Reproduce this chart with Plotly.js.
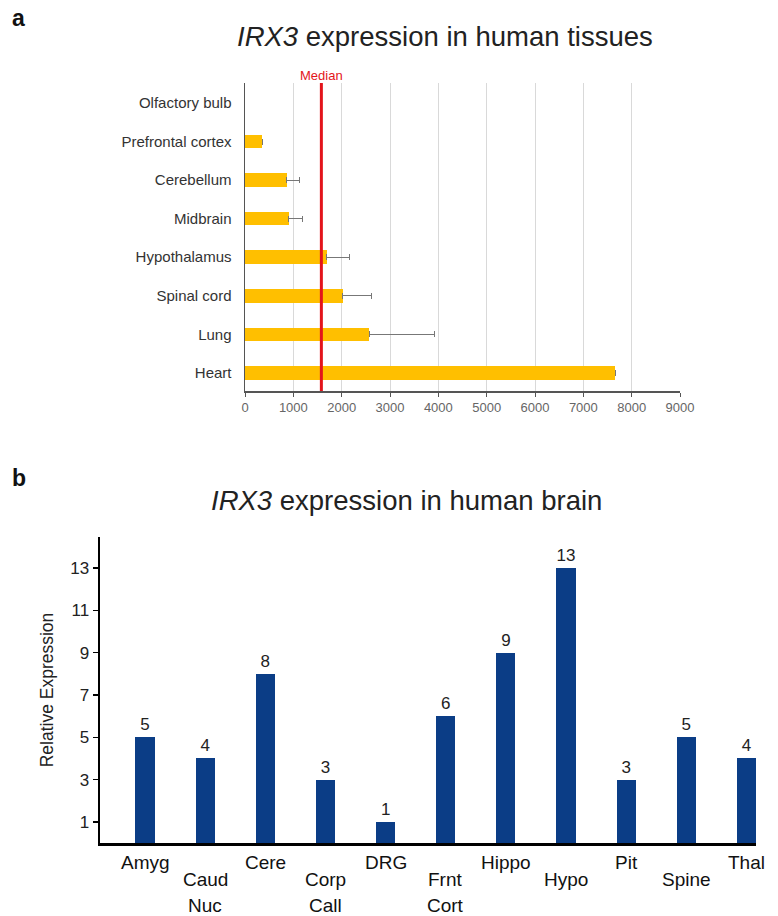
<!DOCTYPE html>
<html>
<head>
<meta charset="utf-8">
<script src="https://cdn.plot.ly/plotly-3.0.1.min.js"></script>
<style>html,body{margin:0;padding:0;background:#fff;}#chart{width:778px;height:916px;}</style>
</head>
<body>
<div id="chart"></div>
<script>
// ---- Panel a data ----
const tissues = ["Heart", "Lung", "Spinal cord", "Hypothalamus", "Midbrain", "Cerebellum", "Prefrontal cortex", "Olfactory bulb"];
const tissueValues = [7660, 2570, 2020, 1690, 900, 860, 360, null];
const tissueErrors = [null, 1350, 590, 470, 290, 260, null, null];
const medianValue = 1580;
const tissueTicks = [0, 1000, 2000, 3000, 4000, 5000, 6000, 7000, 8000, 9000];

// ---- Panel b data ----
const regions = ["Amyg", "Caud Nuc", "Cere", "Corp Call", "DRG", "Frnt Cort", "Hippo", "Hypo", "Pit", "Spine", "Thal"];
const brainValues = [5, 4, 8, 3, 1, 6, 9, 13, 3, 5, 4];
const brainTicks = [1, 3, 5, 7, 9, 11, 13];

const FONT = "Liberation Sans, Arial, sans-serif";
const W = 778, H = 916;
const py = (pix) => (H - pix) / H;
const px = (pix) => pix / W;

const traceA = {
  type: "bar", orientation: "h",
  x: tissueValues, y: tissues,
  xaxis: "x", yaxis: "y",
  width: 0.35,
  marker: {color: "#FFBF00", line: {width: 0}},
  error_x: {type: "data", symmetric: false, array: tissueErrors,
            arrayminus: tissueErrors.map(e => (e === null ? null : 0)),
            visible: true, color: "#777", thickness: 1, width: 3},
  hoverinfo: "x+y"
};

const traceB = {
  type: "bar",
  x: regions.map((r, i) => i), y: brainValues,
  xaxis: "x2", yaxis: "y2",
  width: 0.32,
  marker: {color: "#0b3d86"},
  text: brainValues.map(String),
  textposition: "outside",
  textfont: {family: FONT, size: 17, color: "#222"},
  cliponaxis: false,
  hoverinfo: "y"
};

// x labels for panel b (alternating rows, split into lines)
const labelAnns = [];
regions.forEach((r, i) => {
  const lines = r.split(" ");
  const firstY = (i % 2 === 0) ? 862 : 879;
  lines.forEach((ln, k) => {
    labelAnns.push({
      xref: "x2", yref: "paper", x: i, y: py(firstY + k * 26),
      text: ln, showarrow: false, xanchor: "center", yanchor: "middle",
      font: {family: FONT, size: 19, color: "#111"}
    });
  });
});

const layout = {
  width: W, height: H,
  margin: {l: 0, r: 0, t: 0, b: 0},
  paper_bgcolor: "#fff", plot_bgcolor: "#fff",
  showlegend: false,
  font: {family: FONT},
  bargap: 0,
  xaxis: {
    domain: [px(245), px(680)], anchor: "y",
    range: [0, 9000], tickvals: tissueTicks,
    showgrid: true, gridcolor: "#d9d9d9", gridwidth: 1,
    zeroline: false, showline: true, linecolor: "#555", linewidth: 1.5,
    ticks: "outside", ticklen: 4, tickcolor: "#555",
    tickfont: {family: FONT, size: 13, color: "#666"}
  },
  yaxis: {
    domain: [py(391), py(83)], anchor: "x",
    type: "category", categoryorder: "array", categoryarray: tissues,
    range: [-0.47, 7.52],
    showgrid: false, zeroline: false, showline: true, linecolor: "#555", linewidth: 1.5,
    ticks: "", ticklabelstandoff: 9,
    tickfont: {family: FONT, size: 15, color: "#333"}
  },
  xaxis2: {
    domain: [px(100), px(756)], anchor: "y2",
    range: [-0.75, 10.16],
    showticklabels: false, ticks: "",
    showgrid: false, zeroline: false, showline: true, linecolor: "#000", linewidth: 3
  },
  yaxis2: {
    domain: [py(843), py(537)], anchor: "x2",
    range: [0, 14.47], tickvals: brainTicks,
    showgrid: false, zeroline: false, showline: true, linecolor: "#000", linewidth: 2.5,
    ticks: "outside", ticklen: 5, tickwidth: 1.5, tickcolor: "#000",
    tickfont: {family: FONT, size: 17, color: "#222"},
    title: {text: "Relative Expression", font: {family: FONT, size: 17.5, color: "#222"}, standoff: 12}
  },
  shapes: [
    {type: "line", xref: "x", yref: "paper", x0: medianValue, x1: medianValue,
     y0: py(391), y1: py(83), line: {color: "#e3141b", width: 3}}
  ],
  annotations: [
    {xref: "paper", yref: "paper", x: px(10), y: py(18), text: "<b>a</b>", showarrow: false,
     xanchor: "left", yanchor: "middle", font: {family: FONT, size: 23, color: "#111"}},
    {xref: "paper", yref: "paper", x: px(445), y: py(37), text: "<i>IRX3</i> expression in human tissues", showarrow: false,
     xanchor: "center", yanchor: "middle", font: {family: FONT, size: 27.5, color: "#222"}},
    {xref: "x", yref: "paper", x: medianValue, y: py(75), text: "Median", showarrow: false,
     xanchor: "center", yanchor: "middle", font: {family: FONT, size: 13, color: "#e3141b"}},
    {xref: "paper", yref: "paper", x: px(10), y: py(478), text: "<b>b</b>", showarrow: false,
     xanchor: "left", yanchor: "middle", font: {family: FONT, size: 23, color: "#111"}},
    {xref: "paper", yref: "paper", x: px(406), y: py(500), text: "<i>IRX3</i> expression in human brain", showarrow: false,
     xanchor: "center", yanchor: "middle", font: {family: FONT, size: 27.5, color: "#222"}}
  ].concat(labelAnns)
};

Plotly.newPlot("chart", [traceA, traceB], layout, {displayModeBar: false, staticPlot: true});
</script>
</body>
</html>
